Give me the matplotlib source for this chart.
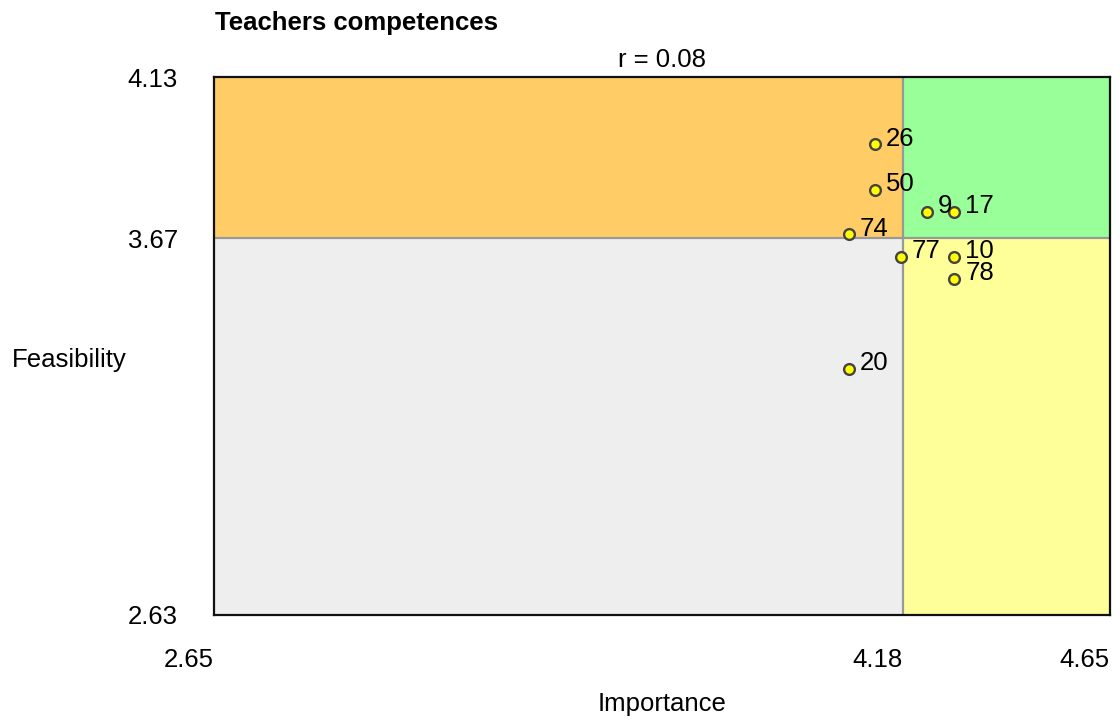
import matplotlib
matplotlib.use('Agg')
import matplotlib.pyplot as plt
from matplotlib.patches import Rectangle

plt.rcParams['font.family'] = ['Liberation Sans', 'DejaVu Sans']

# data
labels = ['26', '50', '74', '9', '17', '77', '10', '78', '20']
importance = [4.125, 4.125, 4.067, 4.242, 4.302, 4.183, 4.302, 4.302, 4.067]
feasibility = [3.943, 3.815, 3.692, 3.754, 3.754, 3.628, 3.628, 3.567, 3.316]
x_min, x_mid, x_max = 2.65, 4.188, 4.65
y_min, y_mid, y_max = 2.63, 3.68, 4.13
x_ticklabels = ['2.65', '4.18', '4.65']
y_ticklabels = ['2.63', '3.67', '4.13']
r_value = 0.08

fs = 18.5

fig = plt.figure(figsize=(11.2, 7.2), dpi=100)
ax = fig.add_axes([0.191, 0.146, 0.800, 0.747])
ax.set_xlim(x_min, x_max)
ax.set_ylim(y_min, y_max)

# quadrants
quads = [
    (x_min, y_min, x_mid - x_min, y_mid - y_min, '#eeeeee'),
    (x_mid, y_min, x_max - x_mid, y_mid - y_min, '#ffff99'),
    (x_min, y_mid, x_mid - x_min, y_max - y_mid, '#ffcc66'),
    (x_mid, y_mid, x_max - x_mid, y_max - y_mid, '#99ff99'),
]
for x0, y0, w, h, c in quads:
    ax.add_patch(Rectangle((x0, y0), w, h, facecolor=c, edgecolor='none', zorder=0))
ax.axvline(x_mid, color='#999999', lw=1.6, zorder=1)
ax.axhline(y_mid, color='#999999', lw=1.6, zorder=1)

ax.scatter(importance, feasibility, s=60, c='#ffff00', edgecolors='#444444',
           linewidths=1.7, zorder=3)
for lab, x, y in zip(labels, importance, feasibility):
    ax.annotate(lab, (x, y), xytext=(8, 4), textcoords='offset points',
                fontsize=fs, va='center', ha='left', zorder=4)

ax.set_xticks([x_min, x_mid, x_max])
ax.set_xticklabels(x_ticklabels, fontsize=fs, ha='right')
ax.set_yticks([y_min, y_mid, y_max])
ax.set_yticklabels(y_ticklabels, fontsize=fs)
ax.tick_params(axis='x', length=0, pad=24)
ax.tick_params(axis='y', length=0, pad=26)
for s in ax.spines.values():
    s.set_linewidth(1.6)
    s.set_color('#111111')

ax.set_xlabel('Importance', fontsize=fs, labelpad=14)
ax.set_ylabel('Feasibility', fontsize=fs, rotation=0, ha='left', va='center')
ax.yaxis.set_label_coords(-0.225, 0.474)

ax.set_title('r = %.2f' % r_value, fontsize=fs, pad=7)
fig.text(0.192, 0.968, 'Teachers competences', fontsize=fs, fontweight='bold',
         ha='left', va='center')

fig.savefig('out.png', dpi=100)
